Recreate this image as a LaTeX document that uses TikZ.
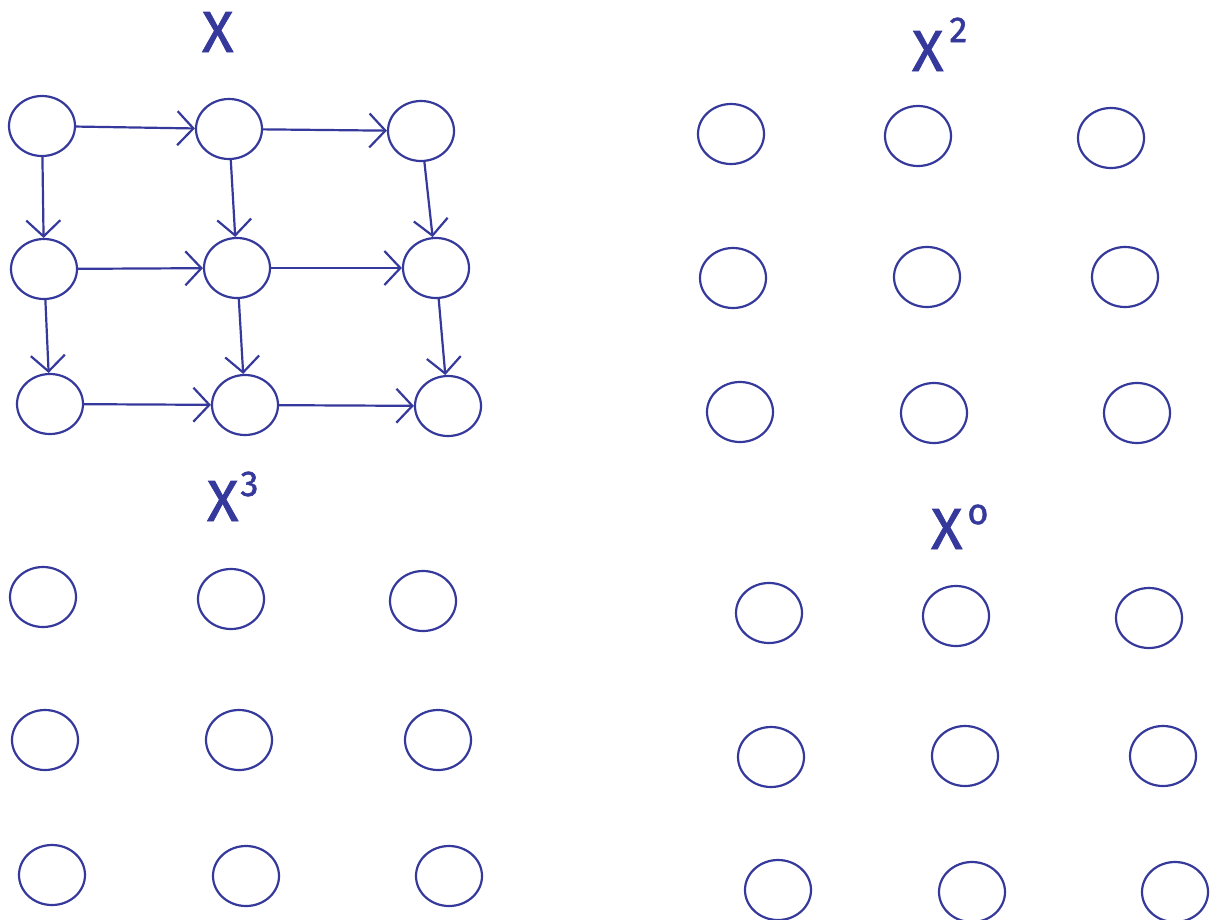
\documentclass[tikz,border=0pt]{standalone}
\usepackage{fontspec}
\newfontfamily\handfont{Fira Sans}[FakeBold=1.4]
\usetikzlibrary{shapes.geometric,arrows.meta}
\definecolor{ink}{HTML}{35399B}
\newcommand{\sqmark}[2]{\raisebox{#1}{\fontsize{36}{36}\selectfont #2}}

\begin{document}
\begin{tikzpicture}[x=1pt,y=-1pt,
  every node/.style={ellipse,draw=ink,line width=2.2pt,minimum width=66pt,minimum height=60pt,inner sep=0pt},
  lab/.style={draw=none,rectangle,anchor=base west,font=\handfont\fontsize{58}{58}\selectfont,text=ink,minimum width=0,minimum height=0},
  >={Straight Barb[length=16pt,width=34pt,line width=2.2pt]}]
\useasboundingbox (0,0) rectangle (1213,919);
% X
\node[lab] (lx) at (201,52) {X};
\node (a11) at (42,126) {};  \node (a12) at (229,129) {}; \node (a13) at (421,131) {};
\node (a21) at (44,269) {};  \node (a22) at (237,268) {}; \node (a23) at (436,268) {};
\node (a31) at (50,404) {};  \node (a32) at (245,405) {}; \node (a33) at (448,406) {};
\draw[->,ink,line width=2.2pt] (a11) -- (a12);
\draw[->,ink,line width=2.2pt] (a12) -- (a13);
\draw[->,ink,line width=2.2pt] (a21) -- (a22);
\draw[->,ink,line width=2.2pt] (a22) -- (a23);
\draw[->,ink,line width=2.2pt] (a31) -- (a32);
\draw[->,ink,line width=2.2pt] (a32) -- (a33);
\draw[->,ink,line width=2.2pt] (a11) -- (a21);
\draw[->,ink,line width=2.2pt] (a21) -- (a31);
\draw[->,ink,line width=2.2pt] (a12) -- (a22);
\draw[->,ink,line width=2.2pt] (a22) -- (a32);
\draw[->,ink,line width=2.2pt] (a13) -- (a23);
\draw[->,ink,line width=2.2pt] (a23) -- (a33);
% X^2
\node[lab] (lx2) at (911,71) {X\hspace{6pt}\sqmark{29pt}{2}};
\node (b11) at (731,134) {}; \node (b12) at (918,136) {}; \node (b13) at (1111,138) {};
\node (b21) at (733,278) {}; \node (b22) at (927,277) {}; \node (b23) at (1125,277) {};
\node (b31) at (740,412) {}; \node (b32) at (934,413) {}; \node (b33) at (1137,413) {};
% X^3
\node[lab] (lx3) at (206,521) {X\hspace{2pt}\sqmark{25pt}{3}};
\node (c11) at (43,597) {};  \node (c12) at (231,599) {}; \node (c13) at (423,601) {};
\node (c21) at (45,740) {};  \node (c22) at (239,740) {}; \node (c23) at (438,740) {};
\node (c31) at (52,875) {};  \node (c32) at (246,876) {}; \node (c33) at (449,876) {};
% X^0
\node[lab] (lx0) at (930,549) {X\hspace{5pt}\sqmark{25pt}{o}};
\node (d11) at (769,613) {}; \node (d12) at (956,616) {}; \node (d13) at (1149,618) {};
\node (d21) at (771,757) {}; \node (d22) at (965,756) {}; \node (d23) at (1163,756) {};
\node (d31) at (778,890) {}; \node (d32) at (972,892) {}; \node (d33) at (1175,892) {};
\end{tikzpicture}
\end{document}
